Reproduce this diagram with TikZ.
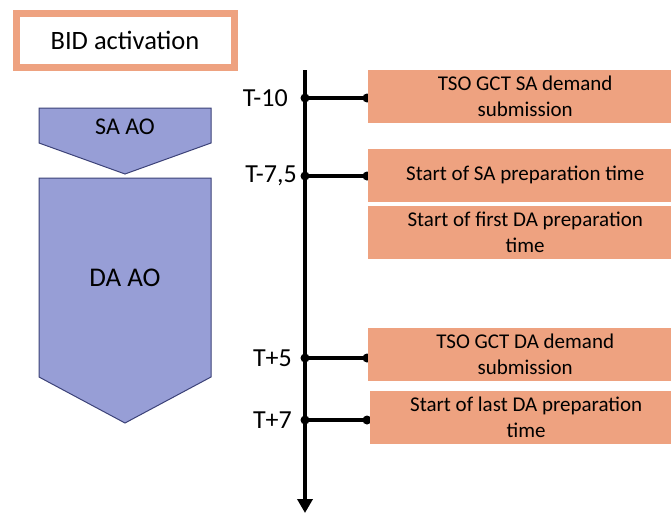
\documentclass[tikz,border=0pt]{standalone}
\usepackage{fontspec}
\setmainfont{Carlito}
\usetikzlibrary{arrows.meta}
\definecolor{salmon}{RGB}{238,162,128}
\definecolor{lav}{RGB}{151,158,214}
\definecolor{navy}{RGB}{60,66,120}
\tikzset{event/.style = {shape=rectangle,fill=salmon,minimum width=314pt,minimum height=53pt,anchor=west,align=center,font=\fontsize{21}{26}\selectfont,inner sep=0pt}}
\tikzset{tlabel/.style = {anchor=east,font=\fontsize{26}{30}\selectfont,inner sep=0pt}}
\tikzset{tick/.style = {line width=4pt}}
\tikzset{ao/.style = {fill=lav,draw=navy,line width=1pt,line join=miter}}

\begin{document}
\begin{tikzpicture}[x=1pt,y=-1pt]
\useasboundingbox (0,0) rectangle (671,514);
% title
\node[draw=salmon,line width=7pt,minimum width=218pt,minimum height=54pt,inner sep=0pt,font=\fontsize{26.5}{30}\selectfont] (bid) at (125,40) {BID activation};

% AO shapes
\draw[ao] (39,108) -- (211,108) -- (211,143) -- (125,174) -- (39,143) -- cycle;
\node[font=\fontsize{24}{28}\selectfont] (sa) at (125,127) {SA AO};
\draw[ao] (39,178) -- (211,178) -- (211,377) -- (125,423) -- (39,377) -- cycle;
\node[font=\fontsize{27}{32}\selectfont] (da) at (125,278) {DA AO};

% time axis
\coordinate (top) at (305,70);
\coordinate (bot) at (305,513);
\coordinate (a) at (305,98);
\coordinate (b) at (305,176);
\coordinate (c) at (305,358);
\coordinate (d) at (305,420);
\draw[line width=4.5pt,-{Triangle[width=15pt,length=14pt]}] (top) -- (bot);

% labels
\node[tlabel] (la) at (288,98) {T-10};
\node[tlabel] (lb) at (297,176) {T-7,5};
\node[tlabel] (lc) at (292,358) {T+5};
\node[tlabel] (ld) at (292,420) {T+7};

% ticks
\foreach \p in {a,b,c,d}{
  \draw[tick] (\p) -- ++(62,0);
  \fill (\p) circle (4.5pt);
  \fill ([xshift=62pt]\p) circle (4.5pt);
}

% events
\node[event] (ea) at (368,96.5) {TSO GCT SA demand\\submission};
\node[event] (eb) at (368,175) {Start of SA preparation time};
\node[event] (ec) at (368,232.5) {Start of first DA preparation\\time};
\node[event] (ed) at (368,354) {TSO GCT DA demand\\submission};
\node[event,minimum width=312pt] (ee) at (370,417.5) {Start of last DA preparation\\time};
\end{tikzpicture}
\end{document}
